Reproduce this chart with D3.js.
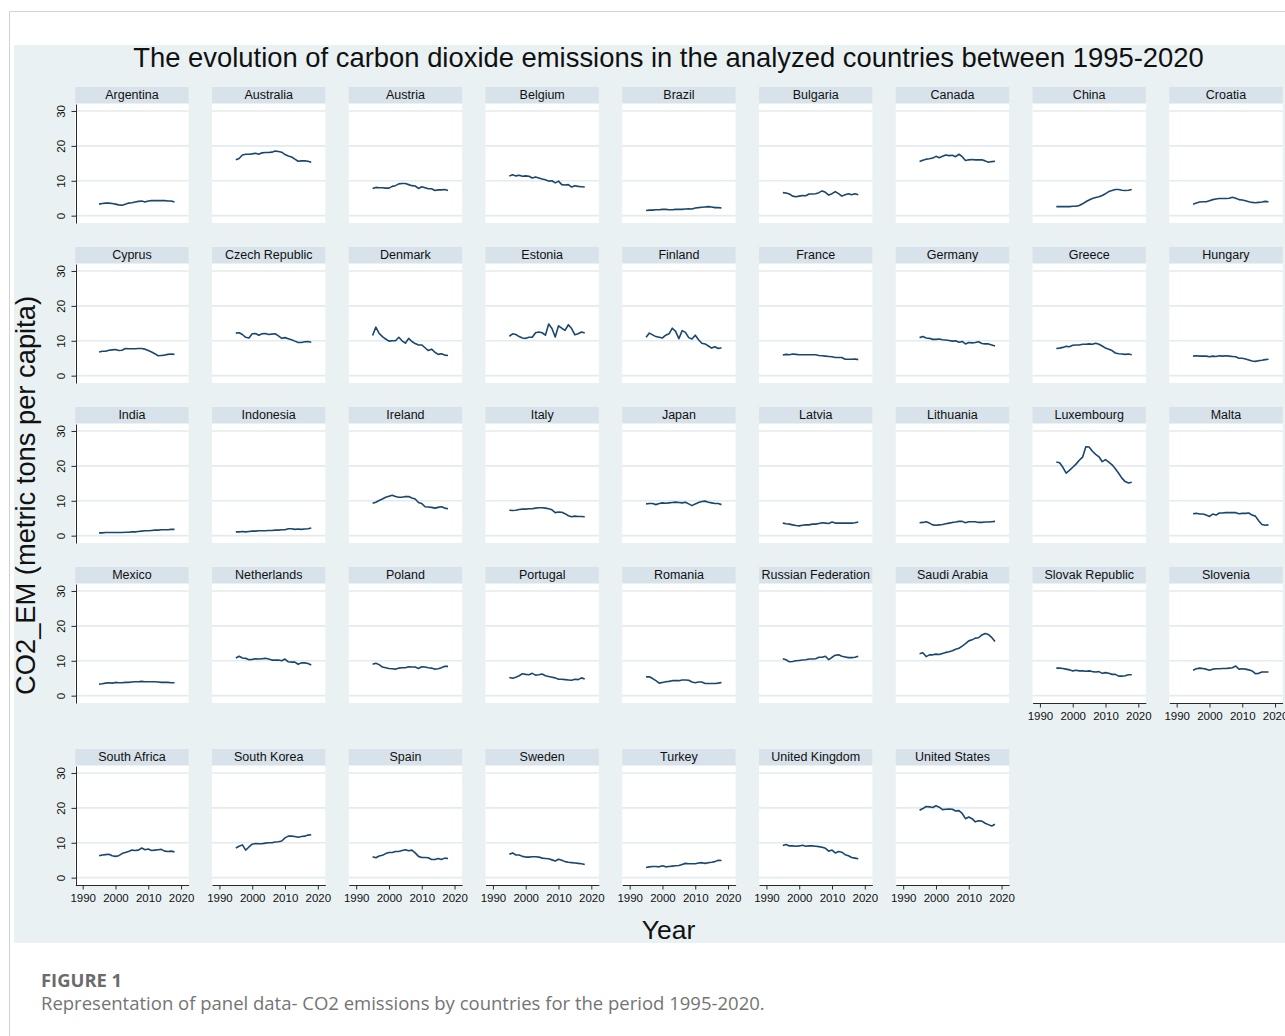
<!DOCTYPE html>
<html>
<head>
<meta charset="utf-8">
<script src="https://cdn.jsdelivr.net/npm/d3@7"></script>
<style>
  html, body { margin: 0; padding: 0; background: #fff; }
  svg { display: block; }
</style>
</head>
<body>
<svg id="fig" width="1285" height="1036"></svg>
<script>
// CO2 emissions, metric tons per capita, 1995-2018
const years = [1995,1996,1997,1998,1999,2000,2001,2002,2003,2004,2005,2006,2007,2008,2009,2010,2011,2012,2013,2014,2015,2016,2017,2018];

const countries = [
  "Argentina","Australia","Austria","Belgium","Brazil","Bulgaria","Canada","China","Croatia",
  "Cyprus","Czech Republic","Denmark","Estonia","Finland","France","Germany","Greece","Hungary",
  "India","Indonesia","Ireland","Italy","Japan","Latvia","Lithuania","Luxembourg","Malta",
  "Mexico","Netherlands","Poland","Portugal","Romania","Russian Federation","Saudi Arabia","Slovak Republic","Slovenia",
  "South Africa","South Korea","Spain","Sweden","Turkey","United Kingdom","United States"
];

const argentina   = [3.3,3.5,3.6,3.6,3.5,3.3,3.1,3.0,3.3,3.6,3.7,3.9,4.1,4.2,3.9,4.2,4.3,4.3,4.3,4.3,4.3,4.2,4.2,3.9];
const australia   = [16.0,16.4,17.4,17.6,17.6,17.7,17.9,17.6,18.0,18.1,18.1,18.2,18.5,18.4,18.2,17.5,17.1,16.8,16.2,15.6,15.7,15.7,15.6,15.3];
const austria     = [7.8,8.1,8.0,8.0,7.9,7.9,8.4,8.6,9.1,9.2,9.2,8.9,8.6,8.5,7.8,8.3,8.0,7.7,7.7,7.2,7.4,7.4,7.5,7.2];
const belgium     = [11.4,11.7,11.4,11.6,11.3,11.4,11.3,10.8,11.1,10.8,10.5,10.3,9.9,10.0,9.4,9.9,8.9,8.8,8.9,8.2,8.6,8.4,8.3,8.2];
const brazil      = [1.5,1.6,1.6,1.7,1.7,1.8,1.8,1.7,1.7,1.8,1.8,1.8,1.9,2.0,1.9,2.2,2.3,2.4,2.5,2.6,2.5,2.3,2.3,2.2];
const bulgaria    = [6.6,6.5,6.2,5.6,5.4,5.6,5.8,5.7,6.2,6.2,6.3,6.6,7.1,6.7,5.9,6.3,6.9,6.3,5.6,6.0,6.3,6.0,6.3,6.0];
const canada      = [15.5,15.9,16.2,16.3,16.5,17.0,16.6,17.0,17.4,17.2,17.3,16.9,17.6,16.9,15.8,16.0,16.1,16.0,16.0,16.0,15.7,15.3,15.5,15.6];
const china       = [2.6,2.6,2.6,2.6,2.6,2.7,2.7,2.9,3.4,4.0,4.5,4.9,5.2,5.4,5.8,6.3,6.9,7.2,7.5,7.5,7.3,7.2,7.3,7.5];
const croatia     = [3.3,3.6,3.9,4.0,4.0,4.3,4.6,4.8,4.9,4.9,4.9,5.0,5.3,5.0,4.6,4.5,4.3,4.0,3.8,3.7,3.8,3.9,4.1,4.0];
const cyprus      = [6.8,7.0,7.0,7.3,7.4,7.5,7.2,7.3,7.8,7.7,7.7,7.7,7.8,7.8,7.6,7.2,6.8,6.3,5.7,5.8,5.9,6.1,6.2,6.1];
const czechRep    = [12.2,12.3,11.8,11.0,10.8,12.0,12.1,11.6,12.0,12.1,11.8,11.9,12.0,11.4,10.7,10.9,10.6,10.3,9.9,9.5,9.5,9.7,9.8,9.6];
const denmark     = [11.5,13.9,12.1,11.2,10.5,9.9,10.0,10.0,11.0,10.0,9.3,10.7,9.8,9.2,8.8,8.8,8.0,7.2,7.6,6.7,6.1,6.3,5.9,5.8];
const estonia     = [11.3,12.0,11.8,11.2,10.8,10.7,11.0,11.0,12.3,12.5,12.3,11.6,14.8,13.5,11.1,14.3,13.6,13.0,14.6,13.5,11.7,12.0,12.5,12.2];
const finland     = [11.0,12.2,11.7,11.2,11.0,10.8,11.6,12.0,13.6,12.7,10.6,12.9,12.4,10.9,10.5,11.6,10.3,9.3,9.1,8.5,7.9,8.3,7.8,8.0];
const france      = [5.9,6.1,6.0,6.2,6.1,6.0,6.0,6.0,6.0,6.0,6.0,5.8,5.7,5.6,5.5,5.4,5.2,5.2,5.2,4.7,4.7,4.7,4.8,4.6];
const germany     = [10.9,11.2,10.8,10.7,10.4,10.4,10.5,10.3,10.2,10.1,9.9,10.0,9.6,9.8,9.1,9.5,9.4,9.5,9.7,9.2,9.1,9.1,8.8,8.5];
const greece      = [7.8,7.9,8.1,8.4,8.3,8.7,8.8,8.8,9.0,9.0,9.1,9.0,9.3,9.0,8.5,7.9,7.6,7.2,6.5,6.3,6.2,6.1,6.2,6.0];
const hungary     = [5.6,5.7,5.6,5.6,5.6,5.4,5.6,5.5,5.7,5.6,5.7,5.6,5.5,5.4,5.0,5.0,4.8,4.5,4.2,4.1,4.3,4.4,4.6,4.7];
const india       = [0.8,0.8,0.9,0.9,0.9,0.9,0.9,0.9,1.0,1.0,1.1,1.1,1.2,1.3,1.4,1.4,1.5,1.6,1.6,1.7,1.7,1.7,1.8,1.8];
const indonesia   = [1.1,1.1,1.2,1.1,1.2,1.3,1.3,1.4,1.4,1.4,1.5,1.5,1.6,1.6,1.7,1.7,2.0,2.0,1.8,1.9,1.8,1.9,2.0,2.2];
const ireland     = [9.3,9.6,10.1,10.5,11.0,11.3,11.6,11.2,11.0,11.0,11.2,11.2,10.8,10.5,9.5,9.2,8.3,8.2,8.1,7.9,8.1,8.3,7.9,7.7];
const italy       = [7.3,7.2,7.3,7.5,7.6,7.6,7.7,7.7,7.9,8.0,8.0,7.9,7.7,7.4,6.6,6.8,6.7,6.3,5.7,5.4,5.6,5.5,5.5,5.4];
const japan       = [9.1,9.2,9.2,8.9,9.2,9.4,9.3,9.4,9.5,9.6,9.5,9.4,9.6,9.1,8.6,9.1,9.5,9.8,9.9,9.6,9.4,9.2,9.2,8.9];
const latvia      = [3.6,3.4,3.3,3.1,2.9,2.8,3.0,3.1,3.1,3.3,3.3,3.5,3.7,3.6,3.5,3.9,3.6,3.6,3.6,3.6,3.6,3.6,3.7,3.9];
const lithuania   = [3.7,3.8,4.0,3.6,3.1,3.0,3.1,3.2,3.4,3.6,3.8,3.9,4.1,4.1,3.7,4.0,4.0,4.0,3.8,3.8,3.9,3.9,4.0,4.1];
const luxembourg  = [21.1,20.9,19.6,17.9,18.7,19.6,20.5,21.6,22.5,25.5,25.4,24.2,23.3,22.6,21.2,21.8,21.1,20.3,19.2,17.9,16.5,15.5,15.1,15.3];
const malta       = [6.3,6.4,6.2,6.2,5.9,5.5,6.2,5.9,6.5,6.5,6.6,6.6,6.6,6.6,6.3,6.4,6.4,6.5,5.9,5.6,4.3,3.2,3.0,3.1];
const mexico      = [3.3,3.4,3.6,3.7,3.6,3.8,3.7,3.7,3.8,3.8,3.9,4.0,4.0,4.1,4.0,4.0,4.0,4.0,3.9,3.8,3.8,3.8,3.7,3.7];
const netherlands = [10.8,11.3,10.8,10.7,10.3,10.4,10.6,10.5,10.6,10.7,10.5,10.2,10.2,10.2,10.0,10.5,9.7,9.6,9.6,9.0,9.4,9.4,9.2,8.8];
const poland      = [9.0,9.3,8.9,8.2,8.0,7.8,7.7,7.6,7.9,8.0,8.0,8.3,8.2,8.2,7.8,8.3,8.2,8.0,7.9,7.6,7.7,8.0,8.4,8.4];
const portugal    = [5.2,5.0,5.3,5.7,6.3,6.1,6.0,6.4,5.9,6.0,6.2,5.7,5.5,5.3,5.1,4.7,4.7,4.6,4.5,4.4,4.7,4.6,5.1,4.8];
const romania     = [5.4,5.4,4.9,4.3,3.6,3.8,4.0,4.1,4.3,4.3,4.3,4.5,4.5,4.4,3.9,3.7,3.9,3.9,3.5,3.5,3.5,3.5,3.6,3.8];
const russia      = [10.6,10.3,9.7,9.8,10.0,10.1,10.2,10.3,10.5,10.5,10.6,11.0,11.0,11.3,10.3,11.0,11.6,11.7,11.3,11.1,10.9,10.9,11.0,11.3];
const saudiArabia = [12.0,12.3,11.2,11.7,11.7,11.9,11.8,12.1,12.4,12.6,12.9,13.3,13.6,14.2,14.9,15.7,16.0,16.5,16.6,17.4,17.8,17.5,16.7,15.5];
const slovakRep   = [7.9,7.9,7.8,7.6,7.4,7.1,7.3,7.1,7.1,7.0,7.1,6.9,6.8,6.9,6.4,6.6,6.4,6.1,6.1,5.6,5.6,5.7,6.0,6.0];
const slovenia    = [7.3,7.7,7.9,7.8,7.6,7.3,7.6,7.7,7.7,7.8,7.8,7.9,8.0,8.5,7.6,7.7,7.6,7.4,7.1,6.3,6.4,6.8,6.8,6.8];
const southAfrica = [6.3,6.5,6.6,6.7,6.3,6.1,6.3,6.9,7.2,7.5,7.9,7.8,7.9,8.5,8.0,8.2,7.8,7.9,8.0,8.1,7.6,7.5,7.6,7.4];
const southKorea  = [8.5,9.0,9.4,7.9,8.8,9.6,9.8,9.7,9.7,9.9,10.0,10.0,10.2,10.3,10.5,11.4,11.9,11.9,11.8,11.6,11.8,11.9,12.2,12.3];
const spain       = [6.0,5.7,6.2,6.4,6.9,7.2,7.2,7.5,7.5,7.8,8.0,7.7,7.9,7.1,6.1,5.8,5.8,5.7,5.2,5.2,5.5,5.2,5.6,5.5];
const sweden      = [6.7,7.1,6.5,6.5,6.1,5.9,5.9,6.0,6.0,5.9,5.6,5.5,5.4,5.1,4.8,5.3,5.0,4.6,4.4,4.3,4.2,4.1,4.0,3.8];
const turkey      = [2.9,3.1,3.2,3.2,3.1,3.4,3.1,3.2,3.3,3.4,3.5,3.8,4.1,4.0,4.0,4.0,4.2,4.3,4.1,4.3,4.4,4.6,5.0,4.9];
const unitedKingdom = [9.2,9.5,9.1,9.1,9.0,9.1,9.3,9.0,9.1,9.1,9.0,8.9,8.7,8.4,7.6,7.9,7.1,7.5,7.3,6.6,6.3,5.8,5.6,5.4];
const unitedStates  = [19.3,19.8,20.4,20.3,20.1,20.6,20.2,19.5,19.6,19.7,19.6,19.1,19.2,18.4,16.9,17.4,16.9,16.0,16.3,16.2,15.6,15.2,14.8,15.3];

const seriesList = [
  argentina, australia, austria, belgium, brazil, bulgaria, canada, china, croatia,
  cyprus, czechRep, denmark, estonia, finland, france, germany, greece, hungary,
  india, indonesia, ireland, italy, japan, latvia, lithuania, luxembourg, malta,
  mexico, netherlands, poland, portugal, romania, russia, saudiArabia, slovakRep, slovenia,
  southAfrica, southKorea, spain, sweden, turkey, unitedKingdom, unitedStates
];

const yTickValues = [0, 10, 20, 30];
const xTickValues = [1990, 2000, 2010, 2020];

const titleText = "The evolution of carbon dioxide emissions in the analyzed countries between 1995-2020";
const yTitle = "CO2_EM (metric tons per capita)";
const xTitle = "Year";
const figLabel = "FIGURE 1";
const figCaption = "Representation of panel data- CO2 emissions by countries for the period 1995-2020.";

// ---- layout ----
const W = 1285, H = 1036;
const nCols = 9;
const colLeft0 = 75.3, colStep = 136.75, panelW = 113.3;
const rowTops = [87, 247, 407, 567, 749];
const stripH = 16, plotGap = 1, plotH = 119;

const C = {
  graphBg: "#EAF1F3",
  strip: "#D7E2EA",
  plotBg: "#FFFFFF",
  grid: "#E3EBEE",
  axis: "#2a2a2a",
  line: "#1A476F",
  text: "#111",
  frame: "#d2d2d2"
};
const FONT = "'Liberation Sans', Arial, Helvetica, sans-serif";
const CAPTION_FONT = "'Open Sans', 'Noto Sans', sans-serif";

const svg = d3.select("#fig");

// page frame
svg.append("path")
  .attr("d", `M9.5,${H} V11.5 H${W}`)
  .attr("fill", "none").attr("stroke", C.frame).attr("stroke-width", 1);

// graph region
svg.append("rect").attr("x", 14).attr("y", 45).attr("width", W - 14).attr("height", 898)
  .attr("fill", C.graphBg);

svg.append("text").attr("x", 668.5).attr("y", 67)
  .attr("text-anchor", "middle").attr("font-family", FONT).attr("font-size", 27.4)
  .attr("fill", C.text).text(titleText);

const x = d3.scaleLinear().domain([1987.75, 2022.3]).range([0, panelW]);
const y = d3.scaleLinear().domain([-2.1, 32]).range([plotH, 0]);

const line = d3.line()
  .x((d, i) => x(years[i]))
  .y(d => y(d));

countries.forEach((name, i) => {
  const r = Math.floor(i / nCols), c = i % nCols;
  const px = colLeft0 + c * colStep;
  const sy = rowTops[r];
  const py = sy + stripH + plotGap;
  const g = svg.append("g").attr("transform", `translate(${px},${py})`);

  // strip
  svg.append("rect").attr("x", px).attr("y", sy).attr("width", panelW).attr("height", stripH)
    .attr("fill", C.strip);
  svg.append("text").attr("x", px + panelW / 2).attr("y", sy + 12.3)
    .attr("text-anchor", "middle").attr("font-family", FONT).attr("font-size", 12.5)
    .attr("fill", C.text).text(name);

  // plot area
  g.append("rect").attr("width", panelW).attr("height", plotH).attr("fill", C.plotBg);
  g.selectAll("line.grid").data(yTickValues).join("line")
    .attr("class", "grid")
    .attr("x1", 0).attr("x2", panelW)
    .attr("y1", d => y(d)).attr("y2", d => y(d))
    .attr("stroke", C.grid).attr("stroke-width", 1.6);

  // series
  g.append("path").datum(seriesList[i])
    .attr("d", line)
    .attr("fill", "none").attr("stroke", C.line).attr("stroke-width", 1.6)
    .attr("stroke-linejoin", "round");

  // y axis on first column
  if (c === 0) {
    const ya = g.append("g").attr("transform", "translate(0.7,0)")
      .call(d3.axisLeft(y).tickValues(yTickValues).tickSizeInner(4.5).tickSizeOuter(0).tickFormat(d3.format("d")));
    ya.select(".domain").attr("stroke", C.axis);
    ya.selectAll(".tick line").attr("stroke", C.axis);
    ya.selectAll(".tick text")
      .attr("x", null).attr("dy", null)
      .attr("transform", "translate(-11.5,0) rotate(-90)")
      .attr("text-anchor", "middle")
      .attr("font-family", FONT).attr("font-size", 11.5).attr("fill", C.text);
  }

  // x axis where no panel sits below
  if (i + nCols >= countries.length) {
    const xa = g.append("g").attr("transform", `translate(0,${plotH})`)
      .call(d3.axisBottom(x).tickValues(xTickValues).tickSizeInner(4.5).tickSizeOuter(0).tickPadding(4.5).tickFormat(d3.format("d")));
    xa.select(".domain").attr("stroke", C.axis);
    xa.selectAll(".tick line").attr("stroke", C.axis);
    xa.selectAll(".tick text").attr("font-family", FONT).attr("font-size", 11.5).attr("fill", C.text);
  }
});

// axis titles
svg.append("text")
  .attr("transform", "translate(35,495.5) rotate(-90)")
  .attr("text-anchor", "middle").attr("font-family", FONT).attr("font-size", 27.3)
  .attr("fill", C.text).text(yTitle);
svg.append("text").attr("x", 668.5).attr("y", 939)
  .attr("text-anchor", "middle").attr("font-family", FONT).attr("font-size", 26.5)
  .attr("fill", C.text).text(xTitle);

// caption
svg.append("text").attr("x", 41).attr("y", 987)
  .attr("font-family", CAPTION_FONT).attr("font-weight", 700)
  .attr("font-size", 18.4).attr("fill", "#6b6b6b").text(figLabel);
svg.append("text").attr("x", 41).attr("y", 1010)
  .attr("font-family", CAPTION_FONT)
  .attr("font-size", 18.5).attr("fill", "#747474").text(figCaption);
</script>
</body>
</html>
